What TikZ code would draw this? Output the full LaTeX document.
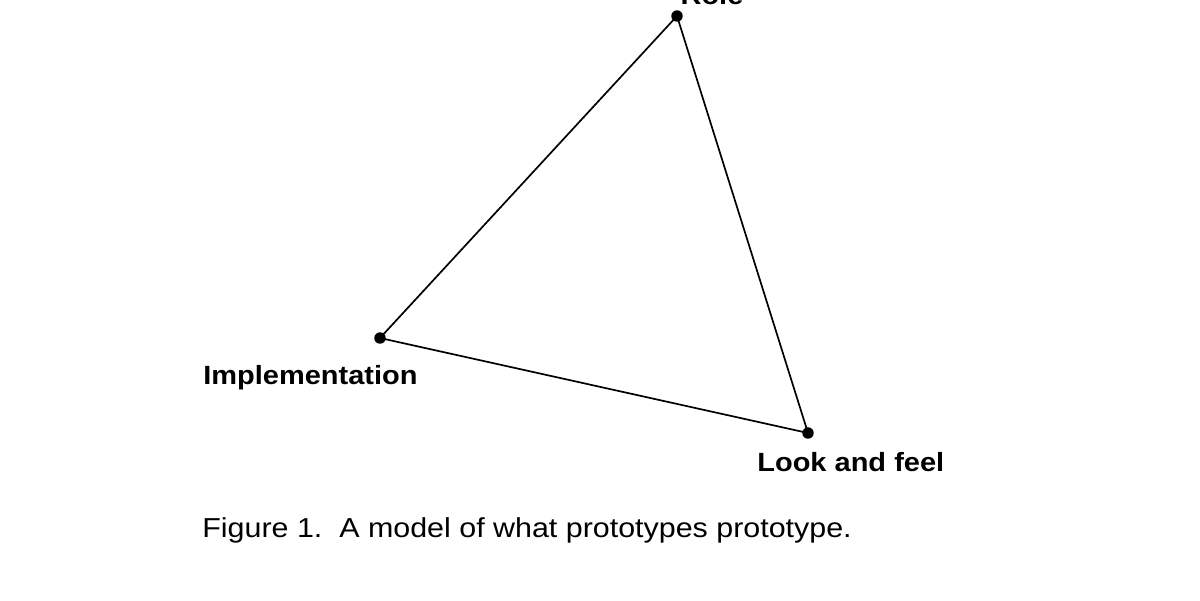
\documentclass[tikz,border=0pt]{standalone}
\usepackage{fontspec}
\setmainfont{Liberation Sans}
\newcommand{\heavylbl}[1]{\scalebox{1.1}[1]{#1}}
\begin{document}
\begin{tikzpicture}[x=0.02cm,y=-0.02cm,
  vertex/.style={circle,fill=black,inner sep=0pt,minimum size=11.5*0.567pt},
  lbl/.style={inner sep=0pt,font=\fontsize{15}{18}\selectfont\bfseries},
  edge/.style={line width=1.7*0.567pt,black}]
\useasboundingbox (0,0) rectangle (1200,600);
\node[vertex] (role) at (677,16) {};
\node[vertex] (impl) at (380,338) {};
\node[vertex] (look) at (808,433) {};
\draw[edge] (role.center) -- (impl.center) -- (look.center) -- (role.center);
\node[lbl,anchor=base] (rolelbl) at (712,4) {\heavylbl{Role}};
\node[lbl,anchor=base west] (impllbl) at (203,384) {\heavylbl{Implementation}};
\node[lbl,anchor=base west] (looklbl) at (757,471) {\heavylbl{Look and feel}};
\node[inner sep=0pt,anchor=base west,font=\fontsize{15.6}{20}\selectfont] (cap) at (202,537) {\scalebox{1.11}[1]{Figure 1.\ \ A model of what prototypes prototype.}};
\end{tikzpicture}
\end{document}
